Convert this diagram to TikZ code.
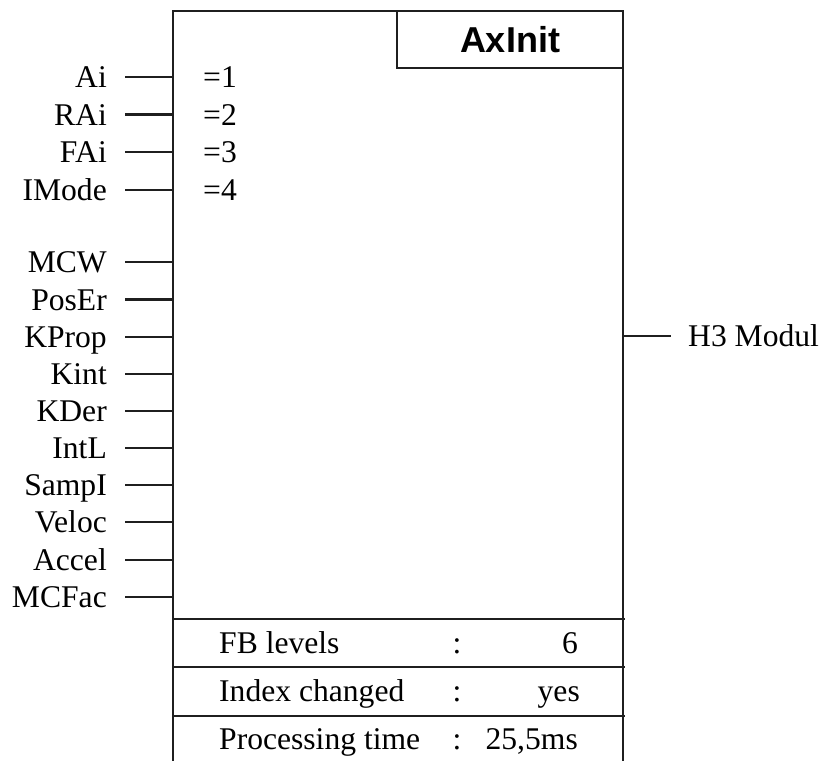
\documentclass[tikz,border=0pt]{standalone}
\usepackage{fontspec}
\setmainfont{Liberation Serif}
\newfontfamily\headfont{Liberation Sans}
\begin{document}
\begin{tikzpicture}[x=1pt,y=-1pt,
  line/.style={line width=2.3pt, draw=black!88},
  pinlabel/.style={anchor=base east, inner sep=0pt, font=\fontsize{31.6}{38}\selectfont},
  txt/.style={inner sep=0pt, font=\fontsize{31.6}{38}\selectfont},
  title/.style={inner sep=0pt, font=\headfont\bfseries\fontsize{36}{42}\selectfont}]
\useasboundingbox (0,0) rectangle (824,760);
% main block outline
\coordinate (bl) at (173,762);
\coordinate (tl) at (173,11);
\coordinate (tr) at (623,11);
\coordinate (br) at (623,762);
\draw[line] (bl) -- (tl) -- (tr) -- (br);
% title box
\coordinate (ttl) at (397,11);
\coordinate (tbr) at (623,68);
\draw[line] (ttl) rectangle (tbr);
\node[title] (title) at (510,40) {AxInit};
% inputs
\foreach \name/\y [count=\i] in {Ai/77,RAi/114.5,FAi/152,IMode/190,MCW/262,PosEr/299.5,KProp/337,Kint/374,KDer/411,IntL/448,SampI/485,Veloc/522,Accel/560,MCFac/597}{
  \node[pinlabel] (lab\i) at (107,\y+10.5) {\name};
  \coordinate (p\i) at (125,\y);
  \coordinate (q\i) at (173,\y);
  \draw[line] (p\i) -- (q\i);
}
% constants
\foreach \v/\y in {1/77,2/114.5,3/152,4/190}{
  \node[txt, anchor=base west] (c\v) at (203,\y+10.5) {=\v};
}
% output
\coordinate (o1) at (623,336);
\coordinate (o2) at (671,336);
\draw[line] (o1) -- (o2);
\node[txt, anchor=base west] (out) at (688,346.5) {H3 Modul};
% table separators
\foreach \y [count=\k] in {619,667,716}{
  \coordinate (sL\k) at (173,\y);
  \coordinate (sR\k) at (625,\y);
  \draw[line] (sL\k) -- (sR\k);
}
% table rows
\node[txt, anchor=base west] (r1a) at (219,653) {FB levels};
\node[txt, anchor=base] (r1b) at (457,653) {:};
\node[txt, anchor=base east] (r1c) at (578,653) {6};
\node[txt, anchor=base west] (r2a) at (219,701) {Index changed};
\node[txt, anchor=base] (r2b) at (457,701) {:};
\node[txt, anchor=base east] (r2c) at (580,701) {yes};
\node[txt, anchor=base west] (r3a) at (219,749) {Processing time};
\node[txt, anchor=base] (r3b) at (457,749) {:};
\node[txt, anchor=base east] (r3c) at (578,749) {25,5ms};
\end{tikzpicture}
\end{document}
